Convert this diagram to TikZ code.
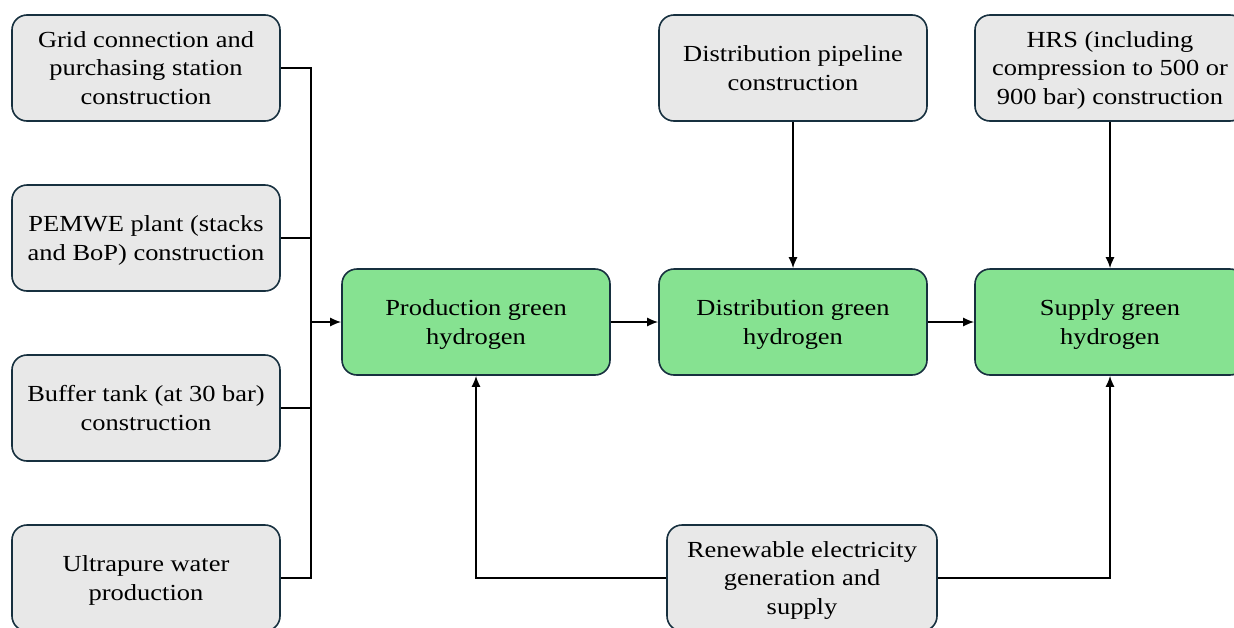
\documentclass[tikz,border=0pt]{standalone}
\usepackage{fontspec}
\setmainfont[FakeStretch=1.15]{Liberation Serif}
\usetikzlibrary{arrows.meta}
\definecolor{boxgray}{HTML}{E8E8E8}
\definecolor{boxgreen}{HTML}{86E291}
\definecolor{boxline}{HTML}{17303F}
\tikzset{
  base/.style={draw=boxline, line width=1.6pt, rounded corners=15pt, minimum width=268pt, minimum height=106pt, align=center, font=\fontsize{23}{28.5}\selectfont, inner sep=0pt, text depth=0pt},
  graybox/.style={base, fill=boxgray},
  greenbox/.style={base, fill=boxgreen},
  conn/.style={line width=1.6pt, draw=black},
  arr/.style={conn, -{Latex[length=11pt,width=9pt]}}
}
\begin{document}
\begin{tikzpicture}[x=1pt,y=-1pt]
\path[use as bounding box] (0,0) rectangle (1234,627);
\begin{scope}
\clip (0,0) rectangle (1234,627);
\node[graybox] (g1) at (146,68) {Grid connection and\\purchasing station\\construction};
\node[graybox] (g2) at (146,238) {PEMWE plant (stacks\\and BoP) construction};
\node[graybox] (g3) at (146,408) {Buffer tank (at 30 bar)\\construction};
\node[graybox] (g4) at (146,578) {Ultrapure water\\production};
\node[greenbox] (p1) at (476,322) {Production green\\hydrogen};
\node[greenbox] (p2) at (793,322) {Distribution green\\hydrogen};
\node[greenbox, minimum width=270pt] (p3) at (1110,322) {Supply green\\hydrogen};
\node[graybox] (t2) at (793,68) {Distribution pipeline\\construction};
\node[graybox, minimum width=270pt] (t3) at (1110,68) {HRS (including\\compression to 500 or\\900 bar) construction};
\node[graybox, minimum width=270pt] (r) at (802,578) {Renewable electricity\\generation and\\supply};
\coordinate (bus) at (311,322);
\draw[conn] (g1.east) -| (bus);
\draw[conn] (g2.east) -| (bus);
\draw[conn] (g3.east) -| (bus);
\draw[conn] (g4.east) -| (bus);
\draw[arr] (bus) -- (p1.west);
\draw[arr] (p1.east) -- (p2.west);
\draw[arr] (p2.east) -- (p3.west);
\draw[arr] (t2.south) -- (p2.north);
\draw[arr] (t3.south) -- (p3.north);
\draw[arr] (r.west) -| (p1.south);
\draw[arr] (r.east) -| (p3.south);
\end{scope}
\end{tikzpicture}
\end{document}
